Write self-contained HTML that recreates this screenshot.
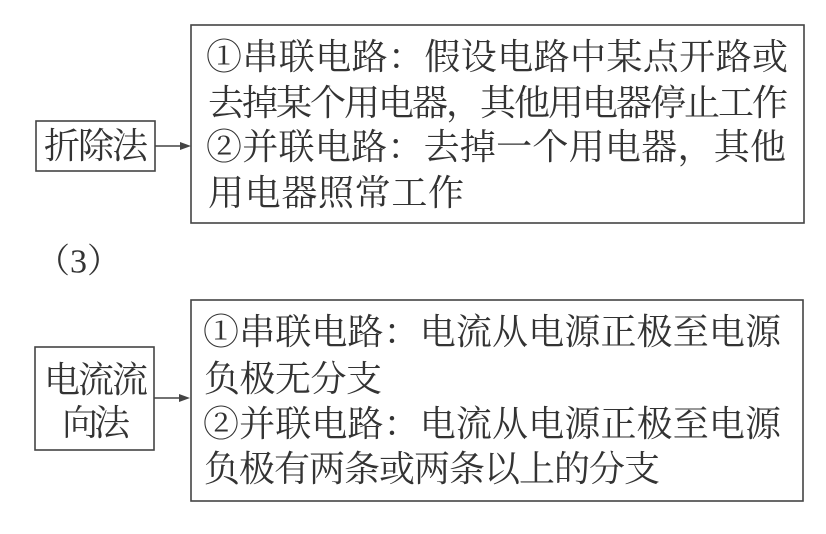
<!DOCTYPE html>
<html><head><meta charset="utf-8"><style>
html,body{margin:0;padding:0;background:#fff;}
svg{display:block;}
text{font-family:"Liberation Serif","Noto Serif CJK SC",serif;fill:#333;dominant-baseline:central;}
</style></head><body>
<svg width="826" height="534" viewBox="0 0 826 534" xmlns="http://www.w3.org/2000/svg">
<g fill="none" stroke="#444" stroke-width="1.6">
<rect x="191" y="25" width="613" height="198"/>
<rect x="36" y="121" width="119" height="50"/>
<rect x="191" y="300" width="612" height="201"/>
<rect x="35" y="347" width="119" height="103"/>
<line x1="155" y1="146" x2="184" y2="146"/>
<line x1="154" y1="398" x2="182" y2="398"/>
</g>
<polygon points="191,146 180,142 180,150" fill="#444"/>
<polygon points="190,398 179,394 179,402" fill="#444"/>
<g font-size="36">
<text x="206" y="57" textLength="582" lengthAdjust="spacing">①串联电路：假设电路中某点开路或</text>
<text x="208" y="103" textLength="580" lengthAdjust="spacing">去掉某个用电器，其他用电器停止工作</text>
<text x="206" y="147" textLength="580" lengthAdjust="spacing">②并联电路：去掉一个用电器，其他</text>
<text x="208" y="193" textLength="256" lengthAdjust="spacing">用电器照常工作</text>
<text x="203" y="332" textLength="578" lengthAdjust="spacing">①串联电路：电流从电源正极至电源</text>
<text x="204" y="379" textLength="178" lengthAdjust="spacing">负极无分支</text>
<text x="203" y="424" textLength="578" lengthAdjust="spacing">②并联电路：电流从电源正极至电源</text>
<text x="204" y="469" textLength="456" lengthAdjust="spacing">负极有两条或两条以上的分支</text>
<text x="44" y="146" textLength="104" lengthAdjust="spacing">折除法</text>
<text x="44" y="380" textLength="104" lengthAdjust="spacing">电流流</text>
<text x="62" y="423" textLength="68" lengthAdjust="spacing">向法</text>
<text x="36" y="262" font-size="34">（3）</text>
</g>
</svg>
</body></html>
